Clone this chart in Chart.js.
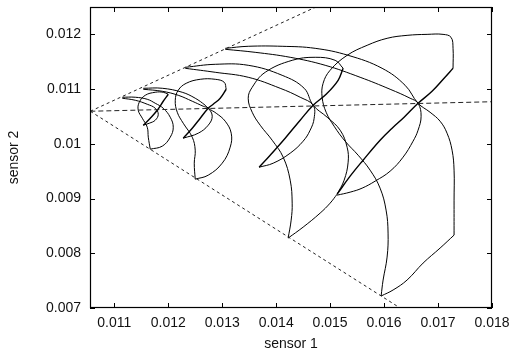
<!DOCTYPE html>
<html>
<head>
<meta charset="utf-8">
<title>sensor 1 / sensor 2</title>
<script src="https://cdn.jsdelivr.net/npm/chart.js"></script>
<style>
  body { margin: 0; background: #fff; }
  #wrap { width: 511px; height: 353px; }
</style>
</head>
<body>
<div id="wrap"><canvas id="orbitChart"></canvas></div>
<script>
// axis ticks
const xTicks = [0.011, 0.012, 0.013, 0.014, 0.015, 0.016, 0.017, 0.018];
const xTickLabels = ['0.011', '0.012', '0.013', '0.014', '0.015', '0.016', '0.017', '0.018'];
const yTicks = [0.007, 0.008, 0.009, 0.010, 0.011, 0.012];
const yTickLabels = ['0.007', '0.008', '0.009', '0.01', '0.011', '0.012'];

// dashed guides from the common vertex
const guideUpper = [[0.010556, 0.010595], [0.014722, 0.012493]];
const guideMiddle = [[0.010556, 0.010595], [0.018, 0.010769]];
const guideLower = [[0.010556, 0.010595], [0.016297, 0.007]];

// orbit 1 (smallest)
const orbit1Upper = [[0.011148, 0.010851], [0.011389, 0.010851], [0.011611, 0.010814], [0.011759, 0.010741], [0.011907, 0.01065], [0.012037, 0.010486], [0.012093, 0.010303], [0.012037, 0.010121], [0.011889, 0.009957], [0.011667, 0.009902]];
const orbit1Lower = [[0.011148, 0.010833], [0.011389, 0.010796], [0.011611, 0.010723], [0.011759, 0.01065], [0.011815, 0.01054], [0.011759, 0.010431], [0.011648, 0.010376], [0.011537, 0.01034]];
const orbit1Outer = [[0.011667, 0.009902], [0.01163, 0.010121], [0.011611, 0.010303], [0.011519, 0.010468], [0.011444, 0.010614], [0.011463, 0.01076], [0.011574, 0.010887], [0.011759, 0.010942], [0.011907, 0.010942], [0.012, 0.010906]];
const orbit1Diag = [[0.012, 0.010906], [0.011907, 0.010778], [0.011796, 0.010614], [0.011667, 0.010468], [0.011537, 0.01034]];

// orbit 2
const orbit2Upper = [[0.011537, 0.011015], [0.011889, 0.011015], [0.012259, 0.010942], [0.0125, 0.010833], [0.012685, 0.010705], [0.012741, 0.01065], [0.012889, 0.010559], [0.013056, 0.010413], [0.013167, 0.010194], [0.013148, 0.009938], [0.013, 0.009646], [0.012741, 0.009427], [0.0125, 0.009354]];
const orbit2Lower = [[0.011537, 0.010997], [0.011889, 0.01096], [0.012185, 0.010887], [0.012445, 0.010778], [0.012648, 0.010687], [0.012741, 0.01065], [0.012815, 0.010504], [0.012741, 0.01034], [0.012556, 0.010194], [0.012278, 0.010103]];
const orbit2Outer = [[0.0125, 0.009354], [0.012482, 0.009646], [0.0125, 0.009884], [0.012445, 0.010121], [0.012278, 0.010376], [0.012167, 0.010577], [0.01213, 0.010796], [0.012185, 0.010979], [0.012333, 0.011106], [0.012593, 0.011179], [0.012871, 0.011179], [0.013037, 0.011125], [0.013074, 0.010997]];
const orbit2Diag = [[0.013074, 0.010997], [0.012963, 0.010833], [0.012833, 0.010723], [0.012741, 0.01065], [0.012593, 0.010468], [0.012445, 0.010285], [0.012278, 0.010103]];

// orbit 3
const orbit3Upper = [[0.012315, 0.011398], [0.012871, 0.011453], [0.013482, 0.011435], [0.014111, 0.011252], [0.014519, 0.011015], [0.014685, 0.010705], [0.014945, 0.010486], [0.015186, 0.010249], [0.015315, 0.009938], [0.015334, 0.009665], [0.01526, 0.009336], [0.01513, 0.00908]];
const orbit3Lower = [[0.012315, 0.01138], [0.012871, 0.011307], [0.013482, 0.011216], [0.014074, 0.011015], [0.014445, 0.010851], [0.014685, 0.010705], [0.014704, 0.010468], [0.01463, 0.010249], [0.0145, 0.010048], [0.01426, 0.009829], [0.013945, 0.009646], [0.013685, 0.009573]];
const orbit3Base = [[0.01513, 0.00908], [0.015, 0.008916], [0.014815, 0.008734], [0.0145, 0.008478], [0.014222, 0.008278]];
const orbit3Outer = [[0.014222, 0.008278], [0.014278, 0.008606], [0.014297, 0.008916], [0.01426, 0.009336], [0.01413, 0.009756], [0.013926, 0.010066], [0.013704, 0.01034], [0.013556, 0.010577], [0.013482, 0.010833], [0.013556, 0.011033], [0.013797, 0.011307], [0.014297, 0.011526], [0.014723, 0.011581], [0.015093, 0.011526], [0.015241, 0.01138]];
const orbit3Diag = [[0.015241, 0.01138], [0.015148, 0.011161], [0.014926, 0.010906], [0.014685, 0.010705], [0.014445, 0.010431], [0.014167, 0.010103], [0.013889, 0.009792], [0.013685, 0.009573]];

// orbit 4 (largest)
const orbit4Upper = [[0.013056, 0.011745], [0.013482, 0.011782], [0.014111, 0.011782], [0.014723, 0.011745], [0.015334, 0.011617], [0.015963, 0.01138], [0.016389, 0.01107], [0.01663, 0.010741], [0.016852, 0.010577], [0.017038, 0.010413], [0.017167, 0.010194], [0.01726, 0.009884], [0.017297, 0.009519], [0.017297, 0.008971], [0.017297, 0.008332]];
const orbit4Lower = [[0.013056, 0.011727], [0.013611, 0.011672], [0.01426, 0.011581], [0.014908, 0.011435], [0.015556, 0.011216], [0.016112, 0.010997], [0.016482, 0.010833], [0.01663, 0.010741], [0.016686, 0.010504], [0.01663, 0.010249], [0.016537, 0.010048], [0.016352, 0.009756], [0.016112, 0.0095], [0.015834, 0.009318], [0.015593, 0.00919], [0.015371, 0.009117], [0.01513, 0.009062]];
const orbit4Base = [[0.017297, 0.008332], [0.017038, 0.008095], [0.016723, 0.007821], [0.016426, 0.007511], [0.016167, 0.007329], [0.015945, 0.007219]];
const orbit4Outer = [[0.015945, 0.007219], [0.015982, 0.007511], [0.016056, 0.007931], [0.016074, 0.008369], [0.016037, 0.008789], [0.015926, 0.00919], [0.015741, 0.009519], [0.015519, 0.009792], [0.015278, 0.010048], [0.015074, 0.010322], [0.014926, 0.010577], [0.014852, 0.010851], [0.01487, 0.011106], [0.015, 0.011344], [0.015315, 0.011617], [0.015686, 0.0118], [0.016056, 0.011928], [0.016426, 0.011982], [0.016797, 0.012], [0.017093, 0.012], [0.017241, 0.011946], [0.017278, 0.011745], [0.017278, 0.01138]];
const orbit4Diag = [[0.017278, 0.01138], [0.017112, 0.011198], [0.016889, 0.01096], [0.01663, 0.010741], [0.016371, 0.010486], [0.016149, 0.010285], [0.015926, 0.010066], [0.015611, 0.009701], [0.015371, 0.009409], [0.01513, 0.00908]];

const curves = [
  orbit1Upper, orbit1Lower, orbit1Outer,
  orbit2Upper, orbit2Lower, orbit2Outer,
  orbit3Upper, orbit3Lower, orbit3Base, orbit3Outer,
  orbit4Upper, orbit4Lower, orbit4Base, orbit4Outer
];
const diagonals = [orbit1Diag, orbit2Diag, orbit3Diag, orbit4Diag];

const toPoints = arr => arr.map(([x, y]) => ({ x, y }));
const fontFamily = '"Liberation Sans", Arial, Helvetica, sans-serif';

const datasets = [
  { data: toPoints(guideUpper), borderDash: [3, 3] },
  { data: toPoints(guideLower), borderDash: [3, 3] },
  { data: toPoints(guideMiddle), borderDash: [5, 3] }
].map(d => Object.assign(d, { borderColor: '#222', borderWidth: 1, tension: 0 }));

curves.forEach(c => datasets.push({ data: toPoints(c), borderColor: '#000', borderWidth: 1, tension: 0.4 }));
diagonals.forEach(c => datasets.push({ data: toPoints(c), borderColor: '#000', borderWidth: 1.4, tension: 0.4 }));
datasets.forEach(d => Object.assign(d, { showLine: true, pointRadius: 0, pointHoverRadius: 0, fill: false }));

// box round the plot with inward tick marks on all four sides
const frameTicks = {
  id: 'frameTicks',
  afterDraw(chart) {
    const { ctx, chartArea: a, scales: { x, y } } = chart;
    const len = 5;
    ctx.save();
    ctx.strokeStyle = '#000';
    ctx.lineWidth = 1;
    ctx.beginPath();
    x.ticks.forEach(t => {
      const px = Math.round(x.getPixelForValue(t.value)) + 0.5;
      ctx.moveTo(px, a.bottom); ctx.lineTo(px, a.bottom - len);
      ctx.moveTo(px, a.top); ctx.lineTo(px, a.top + len);
    });
    y.ticks.forEach(t => {
      const py = Math.round(y.getPixelForValue(t.value)) + 0.5;
      ctx.moveTo(a.left, py); ctx.lineTo(a.left + len, py);
      ctx.moveTo(a.right, py); ctx.lineTo(a.right - len, py);
    });
    ctx.stroke();
    ctx.lineWidth = 1.2;
    ctx.strokeRect(a.left + 0.5, a.top + 0.5, a.right - a.left - 1, a.bottom - a.top - 1);
    ctx.restore();
  }
};

new Chart(document.getElementById('orbitChart'), {
  type: 'scatter',
  data: { datasets },
  plugins: [frameTicks],
  options: {
    responsive: true,
    maintainAspectRatio: false,
    animation: false,
    layout: { padding: { top: 7, right: 19, bottom: 0, left: 0 } },
    plugins: { legend: { display: false }, tooltip: { enabled: false } },
    scales: {
      x: {
        type: 'linear',
        min: 0.01055,
        max: 0.018,
        afterBuildTicks: s => { s.ticks = xTicks.map(v => ({ value: v })); },
        afterFit: s => { s.height = 45; s.paddingLeft = 0; s.paddingRight = 0; },
        grid: { display: false, drawTicks: false },
        border: { display: false },
        ticks: {
          padding: 7,
          color: '#111',
          font: { family: fontFamily, size: 14 },
          maxRotation: 0,
          callback: (v, i) => xTickLabels[i]
        },
        title: {
          display: true,
          text: 'sensor 1',
          color: '#111',
          font: { family: fontFamily, size: 14 },
          padding: { top: 0, bottom: 0 }
        }
      },
      y: {
        type: 'linear',
        min: 0.007,
        max: 0.0125,
        afterBuildTicks: s => { s.ticks = yTicks.map(v => ({ value: v })); },
        afterFit: s => { s.width = 90; s.paddingTop = 0; s.paddingBottom = 0; },
        grid: { display: false, drawTicks: false },
        border: { display: false },
        ticks: {
          padding: 9,
          color: '#111',
          font: { family: fontFamily, size: 14 },
          callback: (v, i) => yTickLabels[i]
        },
        title: {
          display: true,
          text: 'sensor 2',
          color: '#111',
          font: { family: fontFamily, size: 14 },
          padding: { top: 6, bottom: 0 }
        }
      }
    }
  }
});
</script>
</body>
</html>
